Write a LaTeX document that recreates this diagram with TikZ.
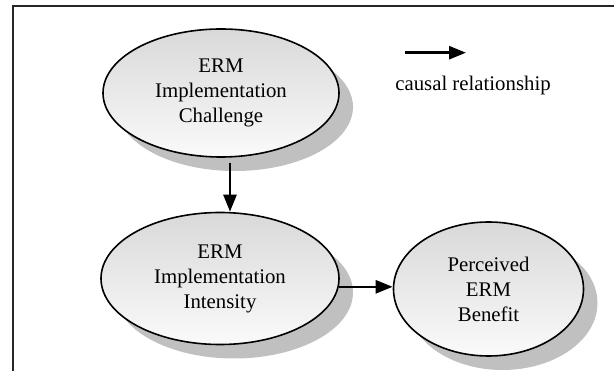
\documentclass[tikz,border=0pt]{standalone}
\usepackage{fontspec}
\setmainfont{Liberation Serif}
\usetikzlibrary{shapes.geometric,arrows.meta,shadows}
\begin{document}
\begin{tikzpicture}[x=1pt,y=-1pt,
  construct/.style={ellipse, draw=black, line width=1.6pt, inner sep=0pt,
    top color=gray!30, bottom color=gray!4, align=center,
    font=\fontsize{20.8}{25}\selectfont,
    drop shadow={shadow xshift=14pt, shadow yshift=-14pt, fill={rgb,255:red,192;green,192;blue,192}, opacity=1}},
  arr/.style={line width=2.6pt, -{Triangle[length=17pt,width=13pt]}},
  legendtext/.style={font=\fontsize{20.8}{25}\selectfont, inner sep=0pt}
]
\useasboundingbox (0,0) rectangle (614,371);
% frame (left and top edges)
\draw[line width=2.5pt, black!85] (13,371) -- (13,6) -- (614,6);
% constructs
\node[construct, minimum width=236pt, minimum height=128pt] (chal) at (221,93) {ERM\\Implementation\\Challenge};
\node[construct, minimum width=238pt, minimum height=132pt] (inten) at (220,278.5) {ERM\\Implementation\\Intensity};
\node[construct, minimum width=190pt, minimum height=134pt] (ben) at (488.5,289) {Perceived\\ERM\\Benefit};
% connectors
\coordinate (a1) at (230,163);
\draw[arr] (a1) -- (a1 |- inten.north);
\draw[arr] (inten.-4.6) -- (inten.-4.6 -| ben.west);
% legend
\coordinate (l1) at (405,52.7);
\coordinate (l2) at (466,52.7);
\draw[arr] (l1) -- (l2);
\node[legendtext] (leg) at (473,86) {causal relationship};
\end{tikzpicture}
\end{document}
